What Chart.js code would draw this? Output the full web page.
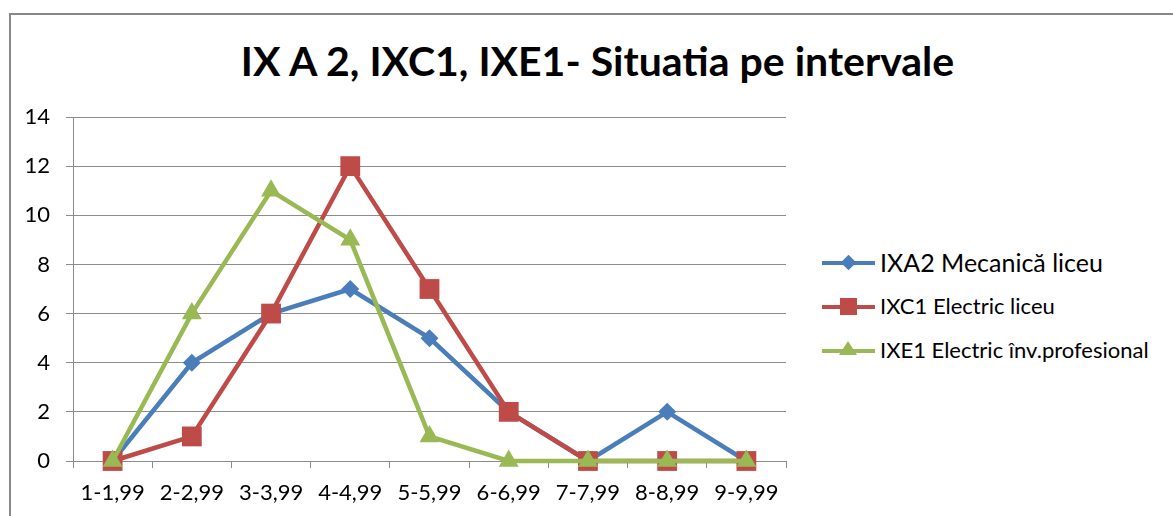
<!DOCTYPE html>
<html>
<head>
<meta charset="utf-8">
<script src="https://cdn.jsdelivr.net/npm/chart.js@4.4.1/dist/chart.umd.min.js"></script>
<style>
	body { margin: 0; width: 1173px; height: 516px; overflow: hidden; background: #fff; font-family: Lato, "Open Sans", sans-serif; }
	#frame { position: absolute; left: 9px; top: 13px; width: 1300px; height: 700px; border: 2px solid #888; box-sizing: border-box; }
	#title { position: absolute; left: 0; width: 1195px; top: 36px; text-align: center; font-weight: bold; font-size: 41px; line-height: 50px; color: #000; }
	#chartBox { position: absolute; left: 0; top: 0; width: 800px; height: 516px; }
	#legend { position: absolute; left: 822px; top: 241px; }
	.item { position: relative; height: 44px; font-size: 22px; color: #000; }
	.item .ln { position: absolute; left: 0; top: 20px; width: 53px; height: 4px; }
	.item .mk { position: absolute; }
	.item .tx { position: absolute; left: 58px; top: 8px; line-height: 26px; white-space: nowrap; }
</style>
</head>
<body>
<div id="frame"></div>
<div id="title">IX A 2, IXC1, IXE1- Situatia pe intervale</div>
<div id="chartBox"><canvas id="lineChart" width="800" height="516"></canvas></div>
<div id="legend"></div>
<script>
const categories = ['1-1,99', '2-2,99', '3-3,99', '4-4,99', '5-5,99', '6-6,99', '7-7,99', '8-8,99', '9-9,99'];
const seriesNames = ['IXA2 Mecanică liceu', 'IXC1 Electric liceu', 'IXE1 Electric înv.profesional'];
const ixa2Values = [0, 4, 6, 7, 5, 2, 0, 2, 0];
const ixc1Values = [0, 1, 6, 12, 7, 2, 0, 0, 0];
const ixe1Values = [0, 6, 11, 9, 1, 0, 0, 0, 0];
const yTicks = [0, 2, 4, 6, 8, 10, 12, 14];

const colors = ['#4a7ebb', '#be4b48', '#98b954'];
const pointStyles = ['rectRot', 'rect', 'triangle'];
const pointSizes = [9, 14, 11.5];

const seriesValues = [ixa2Values, ixc1Values, ixe1Values];

const ctx = document.getElementById('lineChart').getContext('2d');
const lineChart = new Chart(ctx, {
	type: 'line',
	data: {
		labels: categories,
		datasets: seriesValues.map((vals, i) => ({
			label: seriesNames[i],
			data: vals,
			borderColor: colors[i],
			backgroundColor: colors[i],
			borderWidth: 4.5,
			pointStyle: pointStyles[i],
			pointRadius: pointSizes[i],
			pointBorderWidth: 0,
			tension: 0,
			fill: false,
			clip: false,
			// later series sit on top, like the original
			order: seriesValues.length - i
		}))
	},
	options: {
		responsive: false,
		animation: false,
		layout: {
			padding: { left: 10, right: 13, top: 117, bottom: 2 }
		},
		scales: {
			x: {
				offset: true,
				afterFit: s => { s.height = 53; },
				grid: { offset: true, drawOnChartArea: false, drawTicks: true, tickLength: 7, color: '#8c8c8c' },
				border: { color: '#8c8c8c', width: 1 },
				ticks: { color: '#000', font: { family: 'Lato', size: 22 }, padding: 12, maxRotation: 0 }
			},
			y: {
				min: 0,
				max: 14,
				afterFit: s => { s.width = 63; },
				afterBuildTicks: axis => { axis.ticks = yTicks.map(v => ({ value: v })); },
				grid: { color: '#8c8c8c', tickLength: 7 },
				border: { color: '#8c8c8c', width: 1 },
				ticks: { color: '#000', font: { family: 'Lato', size: 22 }, padding: 16 }
			}
		},
		plugins: {
			legend: { display: false },
			title: { display: false },
			tooltip: { enabled: false }
		}
	}
});

// legend built from the same series lists
const legend = document.getElementById('legend');
seriesNames.forEach((name, i) => {
	const item = document.createElement('div');
	item.className = 'item';
	if (i === 0) item.style.fontSize = '25px';
	const ln = document.createElement('div');
	ln.className = 'ln';
	ln.style.background = colors[i];
	item.appendChild(ln);
	const mk = document.createElement('div');
	mk.className = 'mk';
	if (i === 0) {
		mk.style.cssText = 'left:21px;top:16px;width:11px;height:11px;transform:rotate(45deg);background:' + colors[i];
	} else if (i === 1) {
		mk.style.cssText = 'left:18px;top:13px;width:17px;height:17px;background:' + colors[i];
	} else {
		mk.style.cssText = 'left:17px;top:12px;width:0;height:0;border-left:9px solid transparent;border-right:9px solid transparent;border-bottom:14px solid ' + colors[i];
	}
	item.appendChild(mk);
	const tx = document.createElement('div');
	tx.className = 'tx';
	tx.textContent = name;
	item.appendChild(tx);
	legend.appendChild(item);
});
</script>
</body>
</html>
